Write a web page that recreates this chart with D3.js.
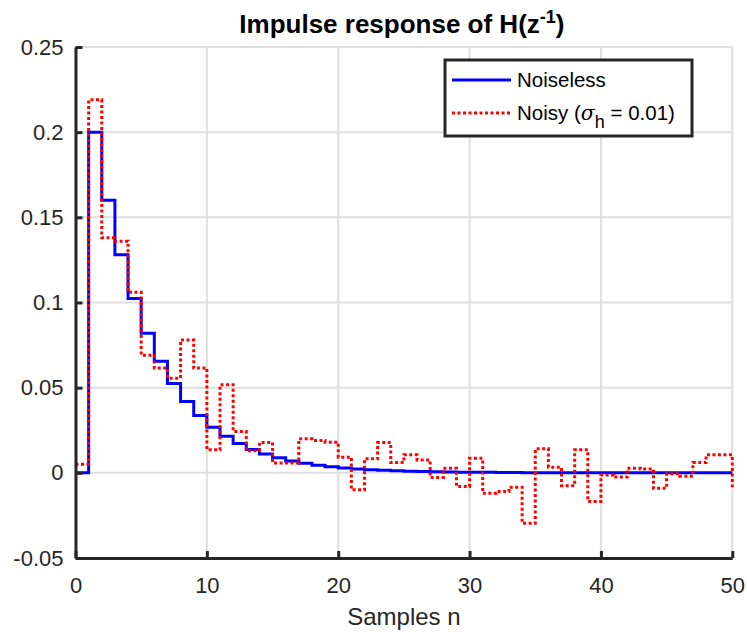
<!DOCTYPE html>
<html>
<head>
<meta charset="utf-8">
<script src="https://cdn.jsdelivr.net/npm/d3@7"></script>
<style>
  body { margin: 0; background: #fff; }
  svg { font-family: "Liberation Sans", Arial, sans-serif; }
</style>
</head>
<body>
<svg id="chart" width="747" height="632"></svg>
<script>
/* Data */
const samples = d3.range(0, 51);
const noiseless = [0, 0.2, 0.16, 0.128, 0.1024, 0.0819, 0.0655, 0.0524, 0.0419, 0.0336,
  0.0268, 0.0215, 0.0172, 0.0137, 0.0110, 0.0088, 0.0070, 0.0056, 0.0045, 0.0036,
  0.0029, 0.0023, 0.0018, 0.0015, 0.0012, 0.0009, 0.0008, 0.0006, 0.0005, 0.0004,
  0.0003, 0.0003, 0.0002, 0.0002, 0.0001, 0.0001, 0.0001, 0.0001, 0.0001, 0, 0,
  0, 0, 0, 0, 0, 0, 0, 0, 0, 0];
const noisy = [0.005, 0.219, 0.138, 0.136, 0.106, 0.069, 0.0615, 0.0556, 0.078, 0.0615,
  0.0135, 0.0517, 0.0243, 0.0129, 0.0178, 0.0057, 0.0057, 0.020, 0.019, 0.018,
  0.0092, -0.010, 0.0082, 0.0178, 0.006, 0.0106, 0.0076, -0.0027, 0.0027, -0.008,
  0.0086, -0.012, -0.011, -0.0084, -0.0296, 0.0141, 0.0033, -0.0076, 0.0135, -0.0168,
  -0.0012, -0.0025, 0.0027, 0.0022, -0.009, -0.0006, -0.002, 0.006, 0.0106, 0.0106,
  -0.0084];
const xTicks = [0, 10, 20, 30, 40, 50];
const yTicks = [-0.05, 0, 0.05, 0.1, 0.15, 0.2, 0.25];
const yTickLabels = ['-0.05', '0', '0.05', '0.1', '0.15', '0.2', '0.25'];

/* SVG */
const svg = d3.select('#chart');
const margin = { top: 47, right: 14.7, bottom: 74, left: 75.5 };
const width = 747, height = 632;
const innerWidth = width - margin.left - margin.right;
const innerHeight = height - margin.top - margin.bottom;

const x = d3.scaleLinear().domain([0, 50]).range([0, innerWidth]);
const y = d3.scaleLinear().domain([-0.05, 0.25]).range([innerHeight, 0]);

const g = svg.append('g').attr('transform', `translate(${margin.left},${margin.top})`);

/* Grid */
g.append('g').selectAll('line').data(xTicks).enter().append('line')
  .attr('x1', d => x(d)).attr('x2', d => x(d))
  .attr('y1', 0).attr('y2', innerHeight)
  .attr('stroke', '#dfdfdf').attr('stroke-width', 2);
g.append('g').selectAll('line').data(yTicks).enter().append('line')
  .attr('x1', 0).attr('x2', innerWidth)
  .attr('y1', d => y(d)).attr('y2', d => y(d))
  .attr('stroke', '#dfdfdf').attr('stroke-width', 2);

/* Stairs */
const stairs = d3.line().x(d => x(d[0])).y(d => y(d[1])).curve(d3.curveStepAfter);

g.append('path')
  .datum(samples.map((n, i) => [n, noiseless[i]]))
  .attr('d', stairs)
  .attr('fill', 'none').attr('stroke', '#0000ff').attr('stroke-width', 3);

g.append('path')
  .datum(samples.map((n, i) => [n, noisy[i]]))
  .attr('d', stairs)
  .attr('fill', 'none').attr('stroke', '#ff0000').attr('stroke-width', 3)
  .attr('stroke-dasharray', '3,2.5');

/* Axes */
const xAxis = d3.axisBottom(x).tickValues(xTicks).tickSizeInner(-7).tickSizeOuter(0).tickPadding(19);
const yAxis = d3.axisLeft(y).tickValues(yTicks).tickSizeInner(-7).tickSizeOuter(0).tickPadding(12)
  .tickFormat((d, i) => yTickLabels[i]);

const gx = g.append('g').attr('transform', `translate(0,${innerHeight})`).call(xAxis);
const gy = g.append('g').call(yAxis);
[gx, gy].forEach(a => {
  a.select('.domain').attr('stroke', '#262626').attr('stroke-width', 3);
  a.selectAll('.tick line').attr('stroke', '#262626').attr('stroke-width', 3);
  a.selectAll('.tick text').attr('fill', '#262626').style('font-size', '22px')
    .style('font-family', '"Liberation Sans", Arial, sans-serif');
});

/* Title & label */
const title = svg.append('text')
  .attr('x', margin.left + innerWidth / 2 - 2).attr('y', 33)
  .attr('text-anchor', 'middle')
  .style('font-size', '26px').style('font-weight', 'bold').attr('fill', '#000');
title.append('tspan').text('Impulse response of H(z');
title.append('tspan').attr('dy', -10).style('font-size', '18px').text('-1');
title.append('tspan').attr('dy', 10).text(')');

svg.append('text')
  .attr('x', margin.left + innerWidth / 2).attr('y', 625)
  .attr('text-anchor', 'middle')
  .style('font-size', '24px').attr('fill', '#262626')
  .text('Samples n');

/* Legend */
const legend = svg.append('g').attr('transform', 'translate(445,60)');
legend.append('rect')
  .attr('width', 247).attr('height', 76)
  .attr('fill', '#fff').attr('stroke', '#262626').attr('stroke-width', 3);

const legendItems = [
  { label: 'Noiseless', color: '#0000ff', dash: null },
  { label: 'Noisy', color: '#ff0000', dash: '3,2.5' }
];
const li = legend.selectAll('g.item').data(legendItems).enter().append('g')
  .attr('class', 'item')
  .attr('transform', (d, i) => `translate(0,${20 + i * 33})`);
li.append('line')
  .attr('x1', 7).attr('x2', 66).attr('y1', 0).attr('y2', 0)
  .attr('stroke', d => d.color).attr('stroke-width', 3)
  .attr('stroke-dasharray', d => d.dash);
const lt = li.append('text')
  .attr('x', 72).attr('y', 7)
  .style('font-size', '20.5px').attr('fill', '#000');
lt.filter((d, i) => i === 0).text(d => d.label);
const noisyText = lt.filter((d, i) => i === 1);
noisyText.append('tspan').text('Noisy (');
noisyText.append('tspan').style('font-family', '"DejaVu Serif", serif').style('font-style', 'italic').text('σ');
noisyText.append('tspan').attr('dy', 8).style('font-size', '18px').text('h');
noisyText.append('tspan').attr('dy', -8).text(' = 0.01)');
</script>
</body>
</html>
